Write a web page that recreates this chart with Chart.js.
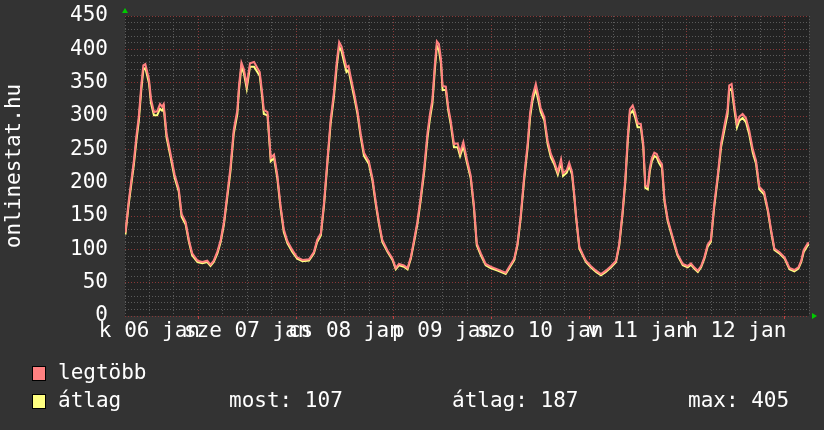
<!DOCTYPE html>
<html>
<head>
<meta charset="utf-8">
<script src="https://cdn.jsdelivr.net/npm/chart.js"></script>
<style>
  html, body { margin: 0; padding: 0; background: #333333; }
  canvas { display: block; }
</style>
</head>
<body>
<canvas id="chart" width="824" height="430"></canvas>
<script>
// órák jan 06 00:00-tól számítva
const hours = [
  6.1, 6.9, 8.2, 8.8, 9.4, 10.0, 10.5, 11.0, 11.9, 12.4, 13.1, 13.9, 14.6, 15.1, 15.5, 16.2, 17.2, 18.2, 19.2, 19.9,
  20.9, 21.7, 22.5, 23.8, 25.0, 26.2, 27.0, 27.8, 28.7, 29.5, 30.3, 31.1, 31.9, 32.7, 33.6, 34.0, 34.6, 35.2, 35.9, 36.7,
  37.7, 38.5, 39.1, 39.7, 40.1, 41.0, 41.8, 42.6, 43.4, 44.2, 45.0, 45.9, 47.1, 48.3, 49.6, 51.2, 52.4, 53.2, 54.1, 54.9,
  55.7, 56.5, 57.3, 58.0, 58.6, 59.2, 59.8, 60.4, 60.9, 61.4, 62.3, 63.1, 63.9, 64.7, 65.9, 66.8, 67.6, 68.4, 69.2, 70.5,
  71.7, 72.5, 73.3, 74.5, 75.4, 76.2, 77.0, 77.8, 78.6, 79.5, 80.3, 80.9, 81.5, 82.1, 82.6, 83.1, 83.6, 84.0, 84.8, 85.4,
  86.0, 86.8, 87.7, 88.3, 89.1, 89.9, 90.9, 91.7, 92.4, 93.4, 94.6, 95.8, 97.5, 98.7, 99.5, 100.3, 101.6, 102.4, 103.2, 104.0,
  104.9, 105.5, 106.1, 106.9, 107.6, 108.1, 109.0, 109.8, 110.6, 111.4, 112.3, 113.1, 113.6, 114.5, 115.1, 115.8, 116.3, 116.8, 117.6, 118.4,
  119.2, 120.4, 121.7, 122.9, 124.1, 125.4, 126.6, 127.4, 128.2, 128.9, 129.5, 130.0, 130.7, 131.3, 131.9, 132.7, 133.3, 133.8, 134.4, 134.9,
  135.4, 136.0, 136.6, 137.1, 137.9, 138.5, 139.3, 140.5, 141.7, 143.0, 144.2, 145.0, 145.8, 146.7, 147.5, 148.3, 149.1, 149.9, 150.7, 151.6,
  152.4, 153.2, 154.0, 154.4, 155.0, 155.7, 156.3, 156.9, 157.7, 158.5, 159.3, 160.2, 161.0, 161.8, 163.0, 163.9, 164.7, 165.5, 166.7, 168.0,
  169.2, 170.4, 171.4, 172.1, 172.7, 173.7, 174.0
];

// átlag
const atlag = [
  122, 167, 228, 263, 293, 339, 369, 372, 349, 319, 301, 301, 311, 308, 313, 268, 238, 207, 187, 149,
  137, 111, 91, 81, 79, 81, 75, 81, 94, 111, 137, 177, 217, 273, 303, 339, 374, 364, 341, 374,
  374, 366, 360, 328, 303, 301, 232, 237, 207, 162, 126, 109, 96, 86, 82, 83, 94, 111, 121, 167,
  228, 288, 328, 374, 404, 397, 381, 366, 369, 354, 328, 303, 268, 240, 228, 202, 167, 137, 111, 96,
  84, 70, 76, 74, 70, 86, 111, 137, 172, 217, 268, 296, 318, 369, 405, 399, 379, 339, 339, 308,
  288, 253, 253, 240, 255, 232, 207, 162, 106, 91, 76, 72, 68, 65, 63, 71, 84, 106, 147, 202,
  253, 298, 323, 341, 321, 306, 293, 258, 238, 228, 212, 230, 210, 215, 225, 212, 182, 147, 101, 91,
  81, 73, 66, 61, 66, 73, 81, 106, 152, 202, 263, 303, 308, 298, 283, 283, 253, 192, 190, 217,
  232, 240, 238, 230, 222, 172, 142, 116, 91, 76, 73, 77, 71, 66, 73, 86, 104, 111, 162, 207,
  253, 278, 303, 339, 341, 308, 283, 293, 297, 291, 273, 245, 228, 190, 182, 157, 126, 99, 94, 86,
  70, 67, 71, 81, 96, 106, 107
];

// legtöbb
const legtobb = [
  125, 172, 234, 270, 300, 346, 376, 378, 355, 325, 306, 307, 318, 314, 318, 274, 243, 212, 191, 153,
  141, 114, 94, 83, 81, 83, 77, 83, 97, 114, 141, 182, 223, 279, 309, 346, 380, 370, 347, 379,
  381, 372, 366, 334, 309, 306, 237, 242, 212, 166, 130, 112, 99, 88, 84, 85, 96, 114, 124, 171,
  233, 294, 335, 381, 411, 404, 388, 373, 375, 360, 334, 308, 273, 245, 232, 206, 171, 140, 114, 98,
  86, 72, 78, 76, 72, 88, 114, 141, 177, 223, 275, 303, 325, 377, 412, 408, 386, 345, 344, 313,
  293, 258, 259, 245, 261, 237, 211, 166, 109, 94, 78, 74, 70, 67, 65, 73, 86, 109, 151, 207,
  259, 305, 330, 348, 328, 312, 298, 263, 243, 232, 216, 235, 214, 219, 230, 216, 186, 150, 104, 93,
  83, 75, 68, 63, 68, 75, 83, 109, 156, 207, 270, 310, 316, 305, 289, 288, 258, 196, 194, 222,
  237, 245, 243, 235, 227, 176, 145, 119, 93, 78, 75, 79, 73, 68, 75, 88, 107, 114, 166, 212,
  259, 285, 310, 346, 348, 314, 289, 299, 303, 297, 279, 250, 233, 194, 186, 160, 129, 101, 96, 88,
  72, 69, 73, 83, 99, 109, 110
];

// napfeliratok (dél)
const labelHours = [12, 36, 60, 84, 108, 132, 156];
const dayLabels = ['k 06 jan', 'sze 07 jan', 'cs 08 jan', 'p 09 jan', 'szo 10 jan', 'v 11 jan', 'h 12 jan'];

const legendNames = ['legtöbb', 'átlag'];
const statLabels = ['most:', 'átlag:', 'max:'];
const statValues = [107, 187, 405];

const FONT = { family: 'DejaVu Sans Mono', size: 21 };
const MINOR = '#5a5a5a';
const MAJOR = '#883838';

// háttér
const bgPlugin = {
  id: 'bg',
  beforeDraw(chart) {
    const { ctx, chartArea: a } = chart;
    ctx.save();
    ctx.fillStyle = '#333333';
    ctx.fillRect(0, 0, chart.width, chart.height);
    ctx.fillStyle = '#222222';
    ctx.fillRect(a.left, a.top, a.right - a.left, a.bottom - a.top);
    ctx.restore();
  }
};

// zöld nyilak + jelmagyarázat
const extrasPlugin = {
  id: 'extras',
  afterDraw(chart) {
    const { ctx, chartArea: a } = chart;
    ctx.save();
    ctx.fillStyle = '#00cc00';
    ctx.beginPath();
    ctx.moveTo(a.left - 3, a.top - 3);
    ctx.lineTo(a.left + 3, a.top - 3);
    ctx.lineTo(a.left, a.top - 8);
    ctx.fill();
    ctx.beginPath();
    ctx.moveTo(a.right + 3, a.bottom - 3);
    ctx.lineTo(a.right + 3, a.bottom + 3);
    ctx.lineTo(a.right + 8, a.bottom);
    ctx.fill();

    const colors = ['#ff8080', '#ffff80'];
    const rows = [374, 402];
    ctx.font = FONT.size + 'px ' + FONT.family;
    ctx.textBaseline = 'middle';
    for (let i = 0; i < 2; i++) {
      ctx.fillStyle = colors[i];
      ctx.fillRect(32, rows[i] - 8, 14, 15);
      ctx.strokeStyle = '#000000';
      ctx.lineWidth = 1;
      ctx.strokeRect(32.5, rows[i] - 7.5, 13, 14);
      ctx.fillStyle = '#ffffff';
      ctx.fillText(legendNames[i], 58, rows[i]);
    }
    const statX = [229, 452, 688];
    for (let i = 0; i < statLabels.length; i++) {
      ctx.fillText(statLabels[i] + ' ' + statValues[i], statX[i], rows[1]);
    }
    ctx.restore();
  }
};

const lineData = (vals) => hours.map((h, i) => ({ x: h, y: vals[i] }));

new Chart(document.getElementById('chart'), {
  type: 'line',
  data: {
    datasets: [{
      label: legendNames[0],
      data: lineData(legtobb),
      borderColor: '#ff8080',
      borderWidth: 2,
      pointRadius: 0,
      tension: 0
    }, {
      label: legendNames[1],
      data: lineData(atlag),
      borderColor: '#ffff80',
      borderWidth: 2,
      pointRadius: 0,
      tension: 0
    }]
  },
  options: {
    responsive: false,
    animation: false,
    events: [],
    layout: { padding: { left: 0, right: 15, top: 16, bottom: 78 } },
    plugins: {
      legend: { display: false },
      tooltip: { enabled: false }
    },
    scales: {
      x: {
        type: 'linear',
        min: 6,
        max: 174,
        afterBuildTicks(scale) {
          const t = [];
          for (let h = 6; h <= 174; h += 6) t.push({ value: h });
          scale.ticks = t;
        },
        afterFit(scale) { scale.height = 36; },
        ticks: {
          autoSkip: false,
          maxRotation: 0,
          minRotation: 0,
          padding: 0,
          color: '#ffffff',
          font: FONT,
          callback(v) {
            const i = labelHours.indexOf(v);
            return i >= 0 ? dayLabels[i] : '';
          }
        },
        grid: {
          color: (c) => (c.tick && c.tick.value % 24 === 0) ? MAJOR : MINOR,
          tickColor: (c) => (c.tick && c.tick.value % 24 === 0) ? '#c04040' : 'rgba(0,0,0,0)',
          tickLength: 3,
          lineWidth: 1
        },
        border: { display: false, dash: [1, 2] }
      },
      y: {
        min: 0,
        max: 450,
        afterFit(scale) { scale.width = 125; },
        ticks: {
          stepSize: 10,
          autoSkip: false,
          padding: 0,
          color: '#ffffff',
          font: FONT,
          callback: (v) => v % 50 === 0 ? v : ''
        },
        grid: {
          color: (c) => (c.tick && c.tick.value % 50 === 0) ? MAJOR : MINOR,
          tickColor: 'rgba(0,0,0,0)',
          tickLength: 17,
          lineWidth: 1
        },
        border: { display: false, dash: [1, 2] },
        title: {
          display: true,
          text: 'onlinestat.hu',
          color: '#ffffff',
          font: FONT,
          padding: { top: 2, bottom: 0 }
        }
      }
    }
  },
  plugins: [bgPlugin, extrasPlugin]
});
</script>
</body>
</html>
